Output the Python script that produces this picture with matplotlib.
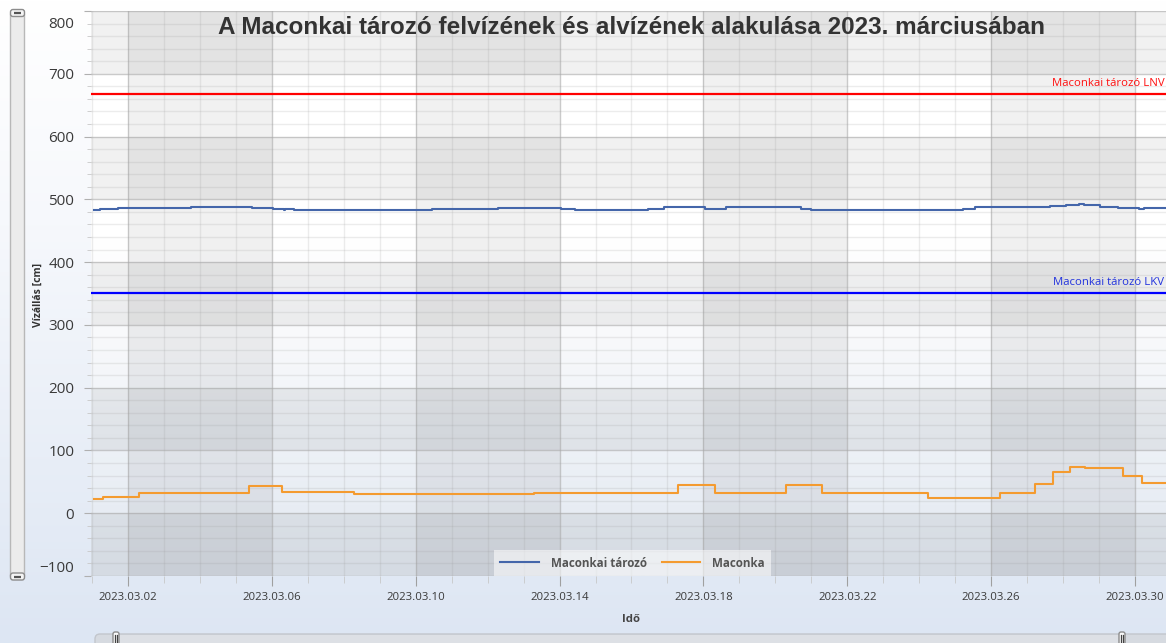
import numpy as np
import pandas as pd
import matplotlib
matplotlib.use("Agg")
import matplotlib.pyplot as plt
import matplotlib.dates as mdates
from matplotlib.patches import FancyBboxPatch, Rectangle
from matplotlib.colors import LinearSegmentedColormap
import matplotlib.transforms as mtransforms

# ---------------- data ----------------
title = "A Maconkai tározó felvízének és alvízének alakulása 2023. márciusában"
series_names = ["Maconkai tározó", "Maconka"]

felviz_times = ["2023-03-01 01:00", "2023-03-01 05:00", "2023-03-01 17:00", "2023-03-03 18:00",
                "2023-03-05 11:00", "2023-03-06 01:00", "2023-03-06 08:00", "2023-03-06 09:00",
                "2023-03-06 15:00", "2023-03-10 11:00", "2023-03-12 07:00", "2023-03-14 01:00",
                "2023-03-14 10:00", "2023-03-16 11:00", "2023-03-16 22:00", "2023-03-18 01:00",
                "2023-03-18 15:00", "2023-03-20 17:00", "2023-03-21 00:00", "2023-03-25 05:00",
                "2023-03-25 13:00", "2023-03-27 15:00", "2023-03-28 02:00", "2023-03-28 11:00",
                "2023-03-28 14:00", "2023-03-29 01:00", "2023-03-29 13:00", "2023-03-30 03:00",
                "2023-03-30 06:00", "2023-03-31 23:00"]
felviz_values = [483, 484.5, 486.5, 488.5,
                 486.5, 485, 483, 485,
                 483, 485, 486.5, 485,
                 483, 485, 487, 485,
                 487, 485, 483, 485,
                 487, 489, 491, 492,
                 491, 488.5, 486.5, 485,
                 486.5, 486.5]

alviz_times = ["2023-03-01 01:00", "2023-03-01 07:00", "2023-03-02 07:00", "2023-03-02 20:00",
               "2023-03-05 09:00", "2023-03-06 07:00", "2023-03-08 07:00", "2023-03-13 07:00",
               "2023-03-17 07:00", "2023-03-18 08:00", "2023-03-20 07:00", "2023-03-21 07:00",
               "2023-03-24 06:00", "2023-03-26 06:00", "2023-03-27 05:00", "2023-03-27 17:00",
               "2023-03-28 05:00", "2023-03-28 15:00", "2023-03-29 16:00", "2023-03-30 05:00",
               "2023-03-31 23:00"]
alviz_values = [22, 26, 32, 31.5,
                43, 33.5, 30.5, 32.5,
                44.5, 32.5, 44.5, 32.5,
                24.5, 33, 46.5, 66,
                74, 71.5, 59, 47.5,
                47.5]

lnv_label, lnv_value = "Maconkai tározó LNV", 667
lkv_label, lkv_value = "Maconkai tározó LKV", 350

y_label = "Vízállás [cm]"
x_label = "Idő"

# ---------------- figure ----------------
W, H = 1166, 643
fig = plt.figure(figsize=(W / 100, H / 100), dpi=100)

# figure background gradient + scrollbars (pixel coordinates)
bg = fig.add_axes([0, 0, 1, 1], zorder=-10)
bg.set_xlim(0, W)
bg.set_ylim(H, 0)
bg.axis("off")
fig_cmap = LinearSegmentedColormap.from_list(
    "figbg", [(0, "#ffffff"), (0.35, "#f6f8fc"), (1.0, "#dde6f3")])
bg.imshow(np.linspace(0, 1, 256)[:, None], cmap=fig_cmap, aspect="auto",
          extent=[0, W, H, 0], zorder=0)

# left vertical scrollbar
bg.add_patch(FancyBboxPatch((10.5, 12), 14, 567, boxstyle="round,pad=0,rounding_size=3",
                            fc="#ececec", ec="#b8b8b8", lw=1, zorder=2))
for yy in (9.5, 573):
    bg.add_patch(FancyBboxPatch((10.5, yy), 14, 7, boxstyle="round,pad=0,rounding_size=2.5",
                                fc="#f4f4f4", ec="#8c8c8c", lw=1, zorder=3))
    bg.plot([14, 21], [yy + 3.5, yy + 3.5], color="#555555", lw=1.6, zorder=4,
            solid_capstyle="butt")

# bottom horizontal scrollbar
bg.add_patch(FancyBboxPatch((95, 634), 1100, 14, boxstyle="round,pad=0,rounding_size=5",
                            fc="#d6dae0", ec="#c2c6cc", lw=1, zorder=2))
bg.add_patch(Rectangle((118, 635), 1004, 10, fc="#dde0e5", ec="none", zorder=2.5))
for xx in (113, 1119):
    bg.add_patch(FancyBboxPatch((xx, 632), 6, 14, boxstyle="round,pad=0,rounding_size=2",
                                fc="#fbfbfb", ec="#8c8c8c", lw=1, zorder=3))
    for dx in (2, 4):
        bg.plot([xx + dx, xx + dx], [635, 643], color="#444444", lw=0.9, zorder=4)

# main axes
ax_left, ax_right, ax_top, ax_bottom = 91, 1174, 11, 576
ax = fig.add_axes([ax_left / W, 1 - ax_bottom / H, (ax_right - ax_left) / W,
                   (ax_bottom - ax_top) / H])
ax.patch.set_alpha(0)

t0 = mdates.date2num(pd.Timestamp("2023-03-01"))
px_per_day = 35.96
xmin = t0 - 0.03
xmax = xmin + (ax_right - ax_left) / px_per_day
ax.set_xlim(xmin, xmax)
ax.set_ylim(-100, 800)

# plot-area background gradient
plot_cmap = LinearSegmentedColormap.from_list(
    "plotbg", [(0, "#ffffff"), (0.40, "#ffffff"), (0.58, "#f8f9fb"),
               (0.75, "#eef2f7"), (1.0, "#e2e8f1")])
ax.imshow(np.linspace(0, 1, 256)[:, None], cmap=plot_cmap, aspect="auto",
          extent=[0, 1, 0, 1], transform=ax.transAxes, zorder=0)

# alternating bands
for v in range(-100, 800, 200):
    ax.axhspan(v, v + 100, color="black", alpha=0.055, lw=0, zorder=0.5)
major_days = pd.date_range("2023-03-02", "2023-04-03", freq="4D")
for i in range(0, len(major_days) - 1, 2):
    ax.axvspan(mdates.date2num(major_days[i]), mdates.date2num(major_days[i + 1]),
               color="black", alpha=0.055, lw=0, zorder=0.5)

# ticks & grid
ax.xaxis.set_major_locator(mdates.DayLocator(bymonthday=[2, 6, 10, 14, 18, 22, 26, 30]))
ax.xaxis.set_minor_locator(mdates.DayLocator())
ax.xaxis.set_major_formatter(mdates.DateFormatter("%Y.%m.%d"))
ax.set_yticks(np.arange(-100, 801, 100))
ax.set_yticks(np.arange(-100, 801, 20), minor=True)

ax.grid(which="major", color="#a8a8a8", alpha=0.6, lw=1, zorder=1)
ax.grid(which="minor", color="#9a9a9a", alpha=0.18, lw=1, zorder=1)
ax.set_axisbelow(True)
for s in ax.spines.values():
    s.set_visible(False)

ax.tick_params(axis="y", which="major", length=5, color="#b0b0b0", pad=7,
               labelsize=11, labelcolor="#3a3a3a")
ax.tick_params(axis="y", which="minor", length=3, color="#c8c8c8")
ax.tick_params(axis="x", which="major", length=7, color="#a0a0a0", pad=4.5,
               labelsize=8.2, labelcolor="#3a3a3a")
ax.tick_params(axis="x", which="minor", length=5, color="#c8c8c8")
for lab in ax.get_xticklabels() + ax.get_yticklabels():
    lab.set_family("Open Sans")
ylabs = ax.get_yticklabels()
ylabs[-1].set_verticalalignment("top")
ylabs[-1].set_transform(ylabs[-1].get_transform()
                        + mtransforms.ScaledTranslation(0, -4 / 72, fig.dpi_scale_trans))
ylabs[0].set_verticalalignment("bottom")

# reference lines
ax.axhline(lnv_value, color="#ff0000", lw=1.6, zorder=2)
ax.axhline(lkv_value, color="#0000ff", lw=1.6, zorder=2)
ref_trans = mtransforms.blended_transform_factory(fig.transFigure, ax.transData)
ax.annotate(lnv_label, xy=(0.9985, lnv_value), xycoords=ref_trans, xytext=(0, 4),
            textcoords="offset points", ha="right", va="bottom", color="#ff1010",
            fontsize=8.2, family="Open Sans")
ax.annotate(lkv_label, xy=(0.9985, lkv_value), xycoords=ref_trans, xytext=(0, 4),
            textcoords="offset points", ha="right", va="bottom", color="#2233dd",
            fontsize=8.2, family="Open Sans")

# series
fx = pd.to_datetime(felviz_times)
alx = pd.to_datetime(alviz_times)
ax.step(fx, felviz_values, where="post", color="#4466aa", lw=1.5, zorder=3,
        label=series_names[0])
ax.step(alx, alviz_values, where="post", color="#f49b30", lw=1.5, zorder=3,
        label=series_names[1])

leg = ax.legend(loc="lower center", ncol=2, frameon=True, fancybox=False,
                facecolor="white", framealpha=0.55, edgecolor="none",
                prop={"family": "Open Sans", "weight": "bold", "size": 8.4},
                handlelength=3.3, columnspacing=1.3, borderpad=0.55,
                borderaxespad=0, handletextpad=1.0)
for txt in leg.get_texts():
    txt.set_color("#555555")

# titles / labels
fig.text(632 / W, 1 - 27 / H, title, ha="center", va="center", fontsize=17.5,
         fontweight="bold", family="Liberation Sans", color="#333333")
fig.text(38 / W, 1 - 295 / H, y_label, rotation=90, ha="center", va="center",
         fontsize=7.5, fontweight="bold", family="Open Sans", color="#333333")
fig.text(631 / W, 1 - 619 / H, x_label, ha="center", va="center",
         fontsize=8.2, fontweight="bold", family="Open Sans", color="#444444")

fig.savefig("out.png", dpi=100)
